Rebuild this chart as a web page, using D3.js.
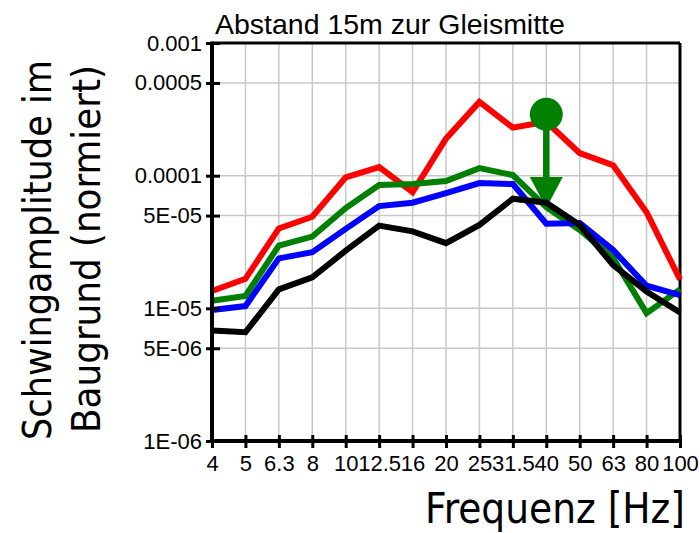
<!DOCTYPE html>
<html lang="de">
<head>
<meta charset="UTF-8">
<title>Abstand 15m zur Gleismitte</title>
<script src="https://d3js.org/d3.v7.min.js"></script>
<style>
    body { margin: 0; background: #fff; }
    svg { display: block; background: #fff; }
    .tick text { font-family: "Liberation Sans", Arial, sans-serif; font-size: 22px; fill: #000; }
    .big { font-family: "DejaVu Sans Condensed", "DejaVu Sans", sans-serif; font-stretch: condensed; fill: #000; }
</style>
</head>
<body>
<svg id="chart" width="700" height="533"></svg>
<script>
    // Data
    const freqs = ['4', '5', '6.3', '8', '10', '12.5', '16', '20', '25', '31.5', '40', '50', '63', '80', '100'];

    const redValues   = [1.35e-5, 1.67e-5, 4.0e-5, 4.9e-5, 9.7e-5, 1.16e-4, 7.5e-5, 1.9e-4, 3.6e-4, 2.3e-4, 2.55e-4, 1.48e-4, 1.2e-4, 5.3e-5, 1.65e-5];
    const greenValues = [1.14e-5, 1.24e-5, 2.97e-5, 3.47e-5, 5.7e-5, 8.5e-5, 8.65e-5, 9.1e-5, 1.14e-4, 1.01e-4, 5.8e-5, 3.9e-5, 2.4e-5, 9.2e-6, 1.39e-5];
    const blueValues  = [9.7e-6, 1.04e-5, 2.38e-5, 2.65e-5, 3.97e-5, 5.9e-5, 6.25e-5, 7.4e-5, 8.8e-5, 8.65e-5, 4.35e-5, 4.4e-5, 2.75e-5, 1.48e-5, 1.26e-5];
    const blackValues = [6.8e-6, 6.6e-6, 1.39e-5, 1.71e-5, 2.72e-5, 4.2e-5, 3.8e-5, 3.1e-5, 4.25e-5, 6.7e-5, 6.25e-5, 4.25e-5, 2.12e-5, 1.34e-5, 9.3e-6];

    const yTickValues = [1e-3, 5e-4, 1e-4, 5e-5, 1e-5, 5e-6, 1e-6];
    const yTickLabels = ['0.001', '0.0005', '0.0001', '5E-05', '1E-05', '5E-06', '1E-06'];

    // marker + arrow at 40 Hz
    const marker = { freq: '40', from: 2.9e-4, to: 5.7e-5 };

    const svg = d3.select('#chart'),
          margin = { top: 43, right: 20, bottom: 92, left: 212 },
          width = +svg.attr('width') - margin.left - margin.right,
          height = +svg.attr('height') - margin.top - margin.bottom;

    const g = svg.append('g').attr('transform', `translate(${margin.left},${margin.top})`);

    const x = d3.scalePoint().domain(freqs).range([0, width]);
    const y = d3.scaleLog().domain([1e-6, 1e-3]).range([height, 0]);

    // grid
    g.append('g').selectAll('line')
        .data(yTickValues)
        .enter().append('line')
        .attr('x1', 0).attr('x2', width)
        .attr('y1', d => y(d)).attr('y2', d => y(d))
        .attr('stroke', '#c8c8c8').attr('stroke-width', 1.5);

    g.append('g').selectAll('line')
        .data(freqs)
        .enter().append('line')
        .attr('x1', d => x(d)).attr('x2', d => x(d))
        .attr('y1', 0).attr('y2', height)
        .attr('stroke', '#c8c8c8').attr('stroke-width', 1.5);

    // frame top / right
    g.append('line').attr('x1', 0).attr('x2', width).attr('y1', 0).attr('y2', 0)
        .attr('stroke', '#000').attr('stroke-width', 3);
    g.append('line').attr('x1', width).attr('x2', width).attr('y1', 0).attr('y2', height)
        .attr('stroke', '#000').attr('stroke-width', 3);

    // lines
    const line = d3.line()
        .x((d, i) => x(freqs[i]))
        .y(d => y(d));

    const series = [
        { values: redValues, color: '#ff0000' },
        { values: greenValues, color: '#008000' },
        { values: blueValues, color: '#0000ff' }
    ];

    series.forEach(s => {
        g.append('path')
            .datum(s.values)
            .attr('fill', 'none')
            .attr('stroke', s.color)
            .attr('stroke-width', 6)
            .attr('d', line);
    });

    // annotation (circle + arrow)
    const mx = x(marker.freq), my0 = y(marker.from), my1 = y(marker.to);
    const headLen = 31, headHalf = 16.5;
    g.append('line')
        .attr('x1', mx).attr('x2', mx)
        .attr('y1', my0).attr('y2', my1 - headLen + 2)
        .attr('stroke', '#008000').attr('stroke-width', 6.5);
    g.append('path')
        .attr('d', `M${mx - headHalf},${my1 - headLen}L${mx + headHalf},${my1 - headLen}L${mx},${my1}Z`)
        .attr('fill', '#008000');
    g.append('circle')
        .attr('cx', mx).attr('cy', my0).attr('r', 16.5)
        .attr('fill', '#008000');

    g.append('path')
        .datum(blackValues)
        .attr('fill', 'none')
        .attr('stroke', '#000')
        .attr('stroke-width', 6)
        .attr('d', line);

    // axes
    const yAxis = g.append('g')
        .call(d3.axisLeft(y).tickValues(yTickValues)
            .tickFormat((d, i) => yTickLabels[i])
            .tickSize(6).tickPadding(4));
    yAxis.selectAll('.tick line').attr('x1', 8).attr('stroke-width', 3);
    yAxis.select('.domain').attr('stroke-width', 4).attr('d', `M0,-1.5V${height + 2}`);

    const xAxis = g.append('g')
        .attr('transform', `translate(0,${height})`)
        .call(d3.axisBottom(x).tickSize(7).tickPadding(8));
    xAxis.selectAll('.tick line').attr('y1', -6).attr('stroke-width', 3);
    xAxis.select('.domain').attr('stroke-width', 4).attr('d', `M-2,0H${width + 1.5}`);
    xAxis.selectAll('.tick text').attr('dy', null).attr('y', 30);

    // texts
    function fit(sel, target) {
        const w = sel.node().getComputedTextLength();
        sel.attr('font-size', parseFloat(sel.attr('font-size')) * target / w);
    }

    const title = svg.append('text')
        .attr('x', 215).attr('y', 34)
        .attr('font-family', '"Liberation Sans", Arial, sans-serif')
        .attr('font-size', 28)
        .text('Abstand 15m zur Gleismitte');
    fit(title, 350);

    const yl1 = svg.append('text').attr('class', 'big')
        .attr('transform', 'translate(51,250) rotate(-90)')
        .attr('text-anchor', 'middle')
        .attr('font-size', 40)
        .text('Schwingamplitude im');
    fit(yl1, 380);

    const yl2 = svg.append('text').attr('class', 'big')
        .attr('transform', 'translate(100,249) rotate(-90)')
        .attr('text-anchor', 'middle')
        .attr('font-size', 40)
        .text('Baugrund (normiert)');
    fit(yl2, 368);

    const xl = svg.append('text').attr('class', 'big')
        .attr('x', 685).attr('y', 523)
        .attr('text-anchor', 'end')
        .attr('font-size', 40)
        .text('Frequenz [Hz]');
    fit(xl, 260);
</script>
</body>
</html>
